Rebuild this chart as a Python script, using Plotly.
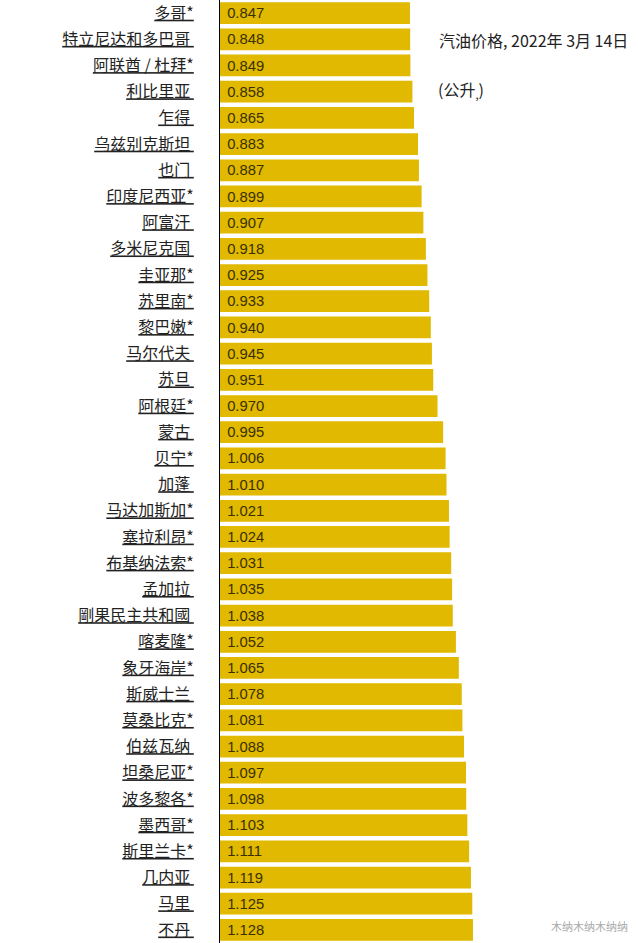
import plotly.graph_objects as go

countries = ["多哥*", "特立尼达和多巴哥 ", "阿联酋 / 杜拜*", "利比里亚 ", "乍得 ", "乌兹别克斯坦 ",
             "也门 ", "印度尼西亚*", "阿富汗 ", "多米尼克国 ", "圭亚那*", "苏里南*", "黎巴嫩*",
             "马尔代夫 ", "苏旦 ", "阿根廷*", "蒙古 ", "贝宁*", "加蓬 ", "马达加斯加*", "塞拉利昂*",
             "布基纳法索*", "孟加拉 ", "剛果民主共和國 ", "喀麦隆*", "象牙海岸*", "斯威士兰 ",
             "莫桑比克*", "伯兹瓦纳 ", "坦桑尼亚*", "波多黎各*", "墨西哥*", "斯里兰卡*", "几内亚 ",
             "马里 ", "不丹 "]
prices = [0.847, 0.848, 0.849, 0.858, 0.865, 0.883, 0.887, 0.899, 0.907, 0.918, 0.925, 0.933,
          0.940, 0.945, 0.951, 0.970, 0.995, 1.006, 1.010, 1.021, 1.024, 1.031, 1.035, 1.038,
          1.052, 1.065, 1.078, 1.081, 1.088, 1.097, 1.098, 1.103, 1.111, 1.119, 1.125, 1.128]

labels = [c.replace(" ", "\u00a0") for c in countries]
value_text = ["\u00a0" + f"{v:.3f}" for v in prices]

fig = go.Figure(go.Bar(
    x=prices, y=labels, orientation="h",
    marker=dict(color="#E0B900", line=dict(width=0)),
    text=value_text, textposition="inside", insidetextanchor="start",
    textfont=dict(family="Liberation Sans, Arial", size=16, color="#3a3000"),
    cliponaxis=False,
))

fig.update_layout(
    width=638, height=943,
    margin=dict(l=220, r=0, t=0, b=0, autoexpand=False),
    paper_bgcolor="white", plot_bgcolor="white",
    bargap=0.17, showlegend=False,
    xaxis=dict(range=[0, 1.864], visible=False, fixedrange=True, automargin=False),
    yaxis=dict(autorange=False, range=[35.5, -0.5], showline=True, linecolor="black",
               linewidth=1, ticks="", showgrid=False, ticklabelstandoff=22, automargin=False,
               tickfont=dict(family="Noto Sans CJK SC", size=16, color="#222", lineposition="under")),
    annotations=[
        dict(text="汽油价格, 2022年 3月 14日", xref="paper", yref="paper", x=(437 - 220) / 418, y=1 - 40 / 943,
             xanchor="left", yanchor="middle", showarrow=False,
             font=dict(family="Noto Sans CJK SC", size=16, color="#222")),
        dict(text="(公升<sub>,</sub>)", xref="paper", yref="paper", x=(436 - 220) / 418, y=1 - 90 / 943,
             xanchor="left", yanchor="middle", showarrow=False,
             font=dict(family="Noto Sans CJK SC", size=16, color="#222")),
        dict(text="木纳木纳木纳纳", xref="paper", yref="paper", x=(630 - 220) / 418, y=1 - 926 / 943,
             xanchor="right", yanchor="middle", showarrow=False,
             font=dict(family="Noto Sans CJK SC", size=11, color="#aaaaaa")),
    ],
)

fig.write_html("out.html", config={"displayModeBar": False},
               post_script="document.body.style.margin='0';")
